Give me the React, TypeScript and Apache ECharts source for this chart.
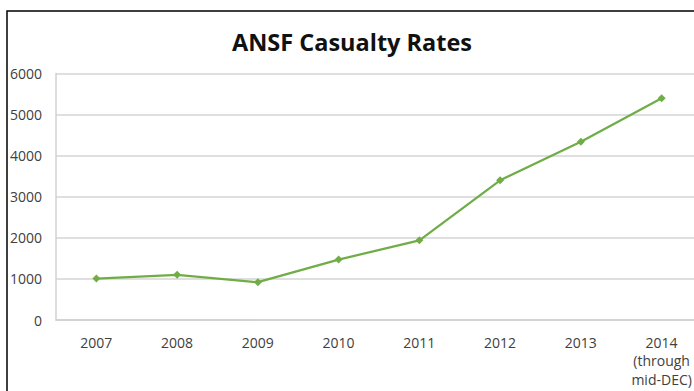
import React, { useEffect, useRef } from "react";
import * as echarts from "echarts";

const categories = ["2007", "2008", "2009", "2010", "2011", "2012", "2013", "2014\n(through\nmid-DEC)"];
const casualties = [1010, 1100, 920, 1470, 1940, 3400, 4340, 5400];
const yTicks = { min: 0, max: 6000, interval: 1000 };

export default function App() {
  const ref = useRef<HTMLDivElement>(null);
  useEffect(() => {
    document.body.style.margin = "0";
    document.body.style.overflow = "hidden";
    const chart = echarts.init(ref.current!, undefined, { renderer: "svg" });
    chart.setOption({
      animation: false,
      backgroundColor: "#ffffff",
      title: {
        text: "ANSF Casualty Rates",
        left: 347,
        textAlign: "center",
        top: 25,
        textStyle: { fontFamily: "Open Sans", fontWeight: "bold", fontSize: 23.5, color: "#111111" },
      },
      graphic: [
        {
          type: "rect",
          shape: { x: 7, y: 11, width: 720, height: 420 },
          style: { fill: "none", stroke: "#000000", lineWidth: 1.5 },
          silent: true,
        },
      ],
      grid: { left: 56, top: 73.5, right: 0, bottom: 71, containLabel: false },
      xAxis: {
        type: "category",
        data: categories,
        boundaryGap: true,
        axisLine: { show: true, lineStyle: { color: "#d0d0d0", width: 1.5 } },
        axisTick: { show: false },
        axisLabel: {
          interval: 0,
          margin: 13,
          fontFamily: "Open Sans",
          fontSize: 14,
          lineHeight: 18.5,
          color: "#404040",
        },
      },
      yAxis: {
        type: "value",
        min: yTicks.min,
        max: yTicks.max,
        interval: yTicks.interval,
        axisLine: { show: true, lineStyle: { color: "#d0d0d0", width: 1.5 } },
        axisTick: { show: false },
        splitLine: { show: true, lineStyle: { color: "#d4d4d4", width: 1.5 } },
        axisLabel: {
          margin: 14,
          fontFamily: "Open Sans",
          fontSize: 14,
          color: "#404040",
          formatter: (v: number) => String(v),
        },
      },
      series: [
        {
          type: "line",
          data: casualties,
          lineStyle: { color: "#70AD47", width: 2.25 },
          itemStyle: { color: "#70AD47" },
          symbol: "diamond",
          symbolSize: 8,
          showSymbol: true,
        },
      ],
    });
    return () => chart.dispose();
  }, []);
  return (
    <div style={{ width: 694, height: 391, overflow: "hidden", position: "relative" }}>
      <div ref={ref} style={{ width: 702, height: 391 }} />
    </div>
  );
}
